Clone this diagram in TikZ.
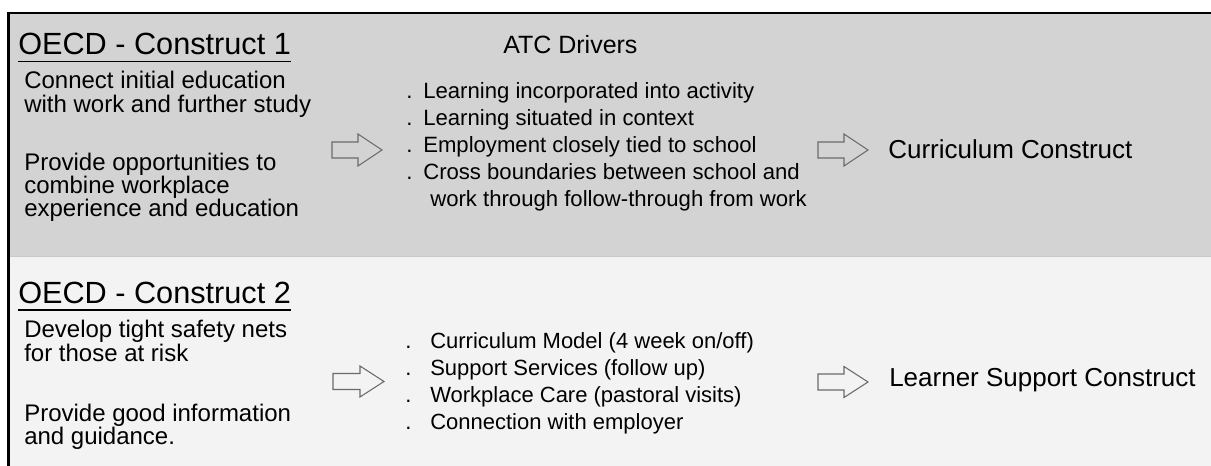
\documentclass[tikz,border=0pt]{standalone}
\usepackage{fontspec}
\setmainfont{Liberation Sans}
\definecolor{bandtop}{HTML}{D3D3D3}
\definecolor{bandbot}{HTML}{F3F3F3}
\definecolor{arrowline}{HTML}{6B6B6B}
\definecolor{sepline}{HTML}{C8C8C8}
\tikzset{
  txt/.style={inner sep=0pt, anchor=base west, text=black},
  heading/.style={txt, font=\fontsize{23}{26}\selectfont},
  body/.style={txt, font=\fontsize{18}{20}\selectfont},
  bullettop/.style={txt, font=\fontsize{16.6}{19}\selectfont},
  bulletbot/.style={txt, font=\fontsize{16.5}{19}\selectfont},
  atc/.style={txt, font=\fontsize{18.75}{21}\selectfont},
  result/.style={txt, font=\fontsize{19.5}{22}\selectfont},
  blockarrow/.style={draw=arrowline, line width=0.8pt, line join=miter},
  uline/.style={draw=black, line width=1.2pt}
}
\begin{document}
\begin{tikzpicture}[x=0.75pt, y=-0.75pt]
\useasboundingbox (0,0) rectangle (1211,466);
\fill[white] (0,0) rectangle (1211,466);
% bands
\fill[bandtop] (8.5,13) rectangle (1211,256.5);
\fill[bandbot] (8.5,256.5) rectangle (1211,466);
\draw[sepline, line width=1pt] (8.5,256.5) -- (1211,256.5);
% frame
\draw[black, line width=1.9pt] (8.5,466) -- (8.5,13) -- (1211,13);

% ---- Top section ----
\node[heading] (h1) at (18,55) {OECD - Construct 1};
\draw[uline] ([yshift=-6.5*0.75pt]h1.base west) -- ([yshift=-6.5*0.75pt]h1.base east);
\node[body] (t1a) at (24,89) {Connect initial education};
\node[body] (t1b) at (24,112.5) {with work and further study};
\node[body] (t1c) at (24,170.5) {Provide opportunities to};
\node[body] (t1d) at (24,194) {combine workplace};
\node[body] (t1e) at (24,217) {experience and education};

\node[atc] (atc) at (503,54) {ATC Drivers};

\foreach \y [count=\i] in {99,126,153,180} {
  \node[bullettop] (d1\i) at (406,\y) {.};
}
\node[bullettop] (b1a) at (423,99) {Learning incorporated into activity};
\node[bullettop] (b1b) at (423,126) {Learning situated in context};
\node[bullettop] (b1c) at (423,153) {Employment closely tied to school};
\node[bullettop] (b1d) at (423,180) {Cross boundaries between school and};
\node[bullettop] (b1e) at (430,207) {work through follow-through from work};

\node[result] (r1) at (888,159) {Curriculum Construct};

% arrows top
\draw[blockarrow, fill=bandtop] (332,142) -- (358,142) -- (358,134) -- (382,150) -- (358,166) -- (358,158) -- (332,158) -- cycle;
\draw[blockarrow, fill=bandtop] (818,142) -- (844,142) -- (844,134) -- (868,150) -- (844,166) -- (844,158) -- (818,158) -- cycle;

% ---- Bottom section ----
\node[heading] (h2) at (18,303.3) {OECD - Construct 2};
\draw[uline] ([yshift=-6.5*0.75pt]h2.base west) -- ([yshift=-6.5*0.75pt]h2.base east);
\node[body] (t2a) at (24,338) {Develop tight safety nets};
\node[body] (t2b) at (24,362) {for those at risk};
\node[body] (t2c) at (24,421.5) {Provide good information};
\node[body] (t2d) at (24,445) {and guidance.};

\foreach \y [count=\i] in {349,376,403,430} {
  \node[bulletbot] (d2\i) at (405,\y) {.};
}
\node[bulletbot] (b2a) at (430,349) {Curriculum Model (4 week on/off)};
\node[bulletbot] (b2b) at (430,376) {Support Services (follow up)};
\node[bulletbot] (b2c) at (430,403) {Workplace Care (pastoral visits)};
\node[bulletbot] (b2d) at (430,430) {Connection with employer};

\node[result] (r2) at (889,387) {Learner Support Construct};

% arrows bottom
\draw[blockarrow, fill=bandbot] (333,373.5) -- (360,373.5) -- (360,366) -- (384,381.5) -- (360,397) -- (360,389.5) -- (333,389.5) -- cycle;
\draw[blockarrow, fill=bandbot] (818,374) -- (844,374) -- (844,366.5) -- (868,382) -- (844,397.5) -- (844,390) -- (818,390) -- cycle;
\end{tikzpicture}
\end{document}
